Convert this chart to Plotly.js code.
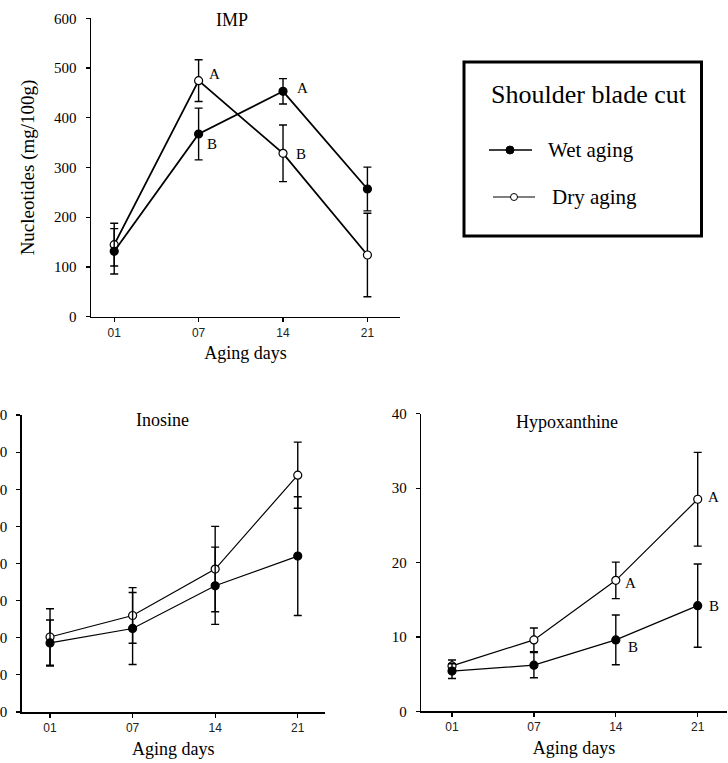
<!DOCTYPE html>
<html>
<head>
<meta charset="utf-8">
<script src="https://cdn.plot.ly/plotly-3.0.1.min.js"></script>
<style>
  html, body { margin: 0; padding: 0; background: #fff; }
  #chart { width: 728px; height: 763px; }
</style>
</head>
<body>
<div id="chart"></div>
<script>
// ---- data ----
const days = ['01', '07', '14', '21'];

const impWet = [131.5, 367.4, 453.2, 256.8];
const impWetErr = [45.6, 52.0, 25.5, 44.0];
const impDry = [144.8, 474.6, 328.5, 124.1];
const impDryErr = [43.0, 42.0, 57.0, 84.0];

const inoWet = [18.6, 22.5, 34.0, 42.0];
const inoWetErr = [6.2, 9.7, 10.4, 16.0];
const inoDry = [20.2, 26.0, 38.5, 63.8];
const inoDryErr = [7.6, 7.5, 11.5, 8.9];

const hypWet = [5.4, 6.2, 9.6, 14.2];
const hypWetErr = [1.0, 1.7, 3.35, 5.6];
const hypDry = [6.1, 9.6, 17.6, 28.5];
const hypDryErr = [0.8, 1.6, 2.45, 6.3];

const impWetLetters = ['', 'B', 'A', ''];
const impDryLetters = ['', 'A', 'B', ''];
const hypWetLetters = ['', '', 'B', 'B'];
const hypDryLetters = ['', '', 'A', 'A'];

const panelTitles = ['IMP', 'Inosine', 'Hypoxanthine'];
const seriesNames = ['Wet aging', 'Dry aging'];
const legendTitle = 'Shoulder blade cut';
const xTitle = 'Aging days';
const yTitle = 'Nucleotides (mg/100g)';

// ---- helpers ----
const W = 728, H = 763;
const px = v => v / W;
const py = v => 1 - v / H;
const SERIF = '"Liberation Serif", "Times New Roman", Times, serif';
const SANS = '"Liberation Sans", Arial, sans-serif';

function series(x, y, err, filled, xa, ya, lw, name) {
  return {
    type: 'scatter', mode: 'lines+markers', x: x, y: y, name: name,
    xaxis: xa, yaxis: ya, showlegend: false, cliponaxis: false,
    line: { color: 'black', width: lw },
    marker: { size: 8, color: filled ? 'black' : 'white', line: { color: 'black', width: 1.2 } },
    error_y: { type: 'data', array: err, visible: true, color: 'black', thickness: 1.4, width: 4 }
  };
}

const data = [
  series(days, impDry, impDryErr, false, 'x', 'y', 1.8, seriesNames[1]),
  series(days, impWet, impWetErr, true, 'x', 'y', 1.8, seriesNames[0]),
  series(days, inoDry, inoDryErr, false, 'x2', 'y2', 1.2, seriesNames[1]),
  series(days, inoWet, inoWetErr, true, 'x2', 'y2', 1.2, seriesNames[0]),
  series(days, hypDry, hypDryErr, false, 'x3', 'y3', 1.2, seriesNames[1]),
  series(days, hypWet, hypWetErr, true, 'x3', 'y3', 1.2, seriesNames[0])
];

function xax(d0, d1, r0, r1, anchor) {
  return {
    domain: [px(d0), px(d1)], anchor: anchor, type: 'category',
    categoryorder: 'array', categoryarray: days,
    range: [r0, r1], showgrid: false, zeroline: false,
    showline: true, linecolor: 'black', linewidth: 1.5,
    ticks: 'outside', ticklen: 4, tickwidth: 1.2, tickcolor: 'black',
    tickfont: { family: SANS, size: 12, color: '#222' },
    automargin: false,
    title: { text: xTitle, font: { family: SERIF, size: 18, color: 'black' }, standoff: 8 }
  };
}
function yax(top, bottom, r1, dt, anchor, title) {
  const a = {
    domain: [py(bottom), py(top)], anchor: anchor,
    range: [0, r1], dtick: dt, tick0: 0, showgrid: false, zeroline: false,
    showline: true, linecolor: 'black', linewidth: 1.5,
    ticks: 'outside', ticklen: 4, tickwidth: 1.2, tickcolor: 'black',
    tickfont: { family: SERIF, size: 15, color: 'black' },
    ticklabelstandoff: 6,
    automargin: false
  };
  if (title) a.title = { text: title, font: { family: SERIF, size: 19, color: 'black' }, standoff: 14 };
  return a;
}

const annotations = [];
// panel titles
[[232.5, 20], [162, 420], [566.7, 422]].forEach((p, i) => {
  annotations.push({ xref: 'paper', yref: 'paper', x: px(p[0]), y: py(p[1]), text: panelTitles[i],
    showarrow: false, xanchor: 'center', yanchor: 'middle', font: { family: SERIF, size: 18, color: 'black' } });
});
// significance letters (x given as category index)
function letters(lab, vals, xa, ya, shifts) {
  lab.forEach((t, i) => {
    if (!t) return;
    annotations.push({ xref: xa, yref: ya, x: i, y: vals[i], text: t, showarrow: false,
      xanchor: 'center', yanchor: 'middle', xshift: shifts[i][0], yshift: shifts[i][1],
      font: { family: SERIF, size: 15, color: 'black' } });
  });
}
letters(impDryLetters, impDry, 'x', 'y', [[0,0],[16,7],[18,-1],[0,0]]);
letters(impWetLetters, impWet, 'x', 'y', [[0,0],[13,-10],[19,3],[0,0]]);
letters(hypDryLetters, hypDry, 'x3', 'y3', [[0,0],[0,0],[15,-3],[16,2]]);
letters(hypWetLetters, hypWet, 'x3', 'y3', [[0,0],[0,0],[17,-7],[16,0]]);

// custom legend box
annotations.push({ xref: 'paper', yref: 'paper', x: px(588.5), y: py(94), text: legendTitle, showarrow: false,
  xanchor: 'center', yanchor: 'middle', font: { family: SERIF, size: 26, color: 'black' } });
annotations.push({ xref: 'paper', yref: 'paper', x: px(546), y: py(150), text: seriesNames[0], showarrow: false,
  xanchor: 'left', yanchor: 'middle', font: { family: SERIF, size: 21, color: 'black' } });
annotations.push({ xref: 'paper', yref: 'paper', x: px(550), y: py(197), text: seriesNames[1], showarrow: false,
  xanchor: 'left', yanchor: 'middle', font: { family: SERIF, size: 21, color: 'black' } });

const shapes = [
  { type: 'rect', xref: 'paper', yref: 'paper', x0: px(464), x1: px(701.5), y0: py(236), y1: py(62),
    line: { color: 'black', width: 3 }, fillcolor: 'rgba(0,0,0,0)' },
  { type: 'line', xref: 'paper', yref: 'paper', x0: px(489), x1: px(532), y0: py(150), y1: py(150),
    line: { color: 'black', width: 1.6 } },
  { type: 'circle', xref: 'paper', yref: 'paper', x0: px(506), x1: px(514), y0: py(154), y1: py(146),
    fillcolor: 'black', line: { color: 'black', width: 1 } },
  { type: 'line', xref: 'paper', yref: 'paper', x0: px(493), x1: px(535), y0: py(197), y1: py(197),
    line: { color: 'black', width: 1.2 } },
  { type: 'circle', xref: 'paper', yref: 'paper', x0: px(510.5), x1: px(517.5), y0: py(200.5), y1: py(193.5),
    fillcolor: 'white', line: { color: 'black', width: 1 } }
];

const layout = {
  width: W, height: H,
  margin: { l: 0, r: 0, t: 0, b: 0, pad: 0 },
  paper_bgcolor: 'white', plot_bgcolor: 'white',
  showlegend: false,
  font: { family: SERIF, color: 'black' },
  xaxis: xax(91, 400, -0.275, 3.386, 'y'),
  yaxis: yax(18.3, 316.7, 600, 100, 'x', yTitle),
  xaxis2: xax(21.7, 325, -0.343, 3.33, 'y2'),
  yaxis2: yax(415, 712, 80, 10, 'x2', null),
  xaxis3: xax(421.3, 726.7, -0.375, 3.354, 'y3'),
  yaxis3: yax(413.7, 711.3, 40, 10, 'x3', null),
  annotations: annotations,
  shapes: shapes
};

Plotly.newPlot('chart', data, layout, { displayModeBar: false, staticPlot: true });
</script>
</body>
</html>
